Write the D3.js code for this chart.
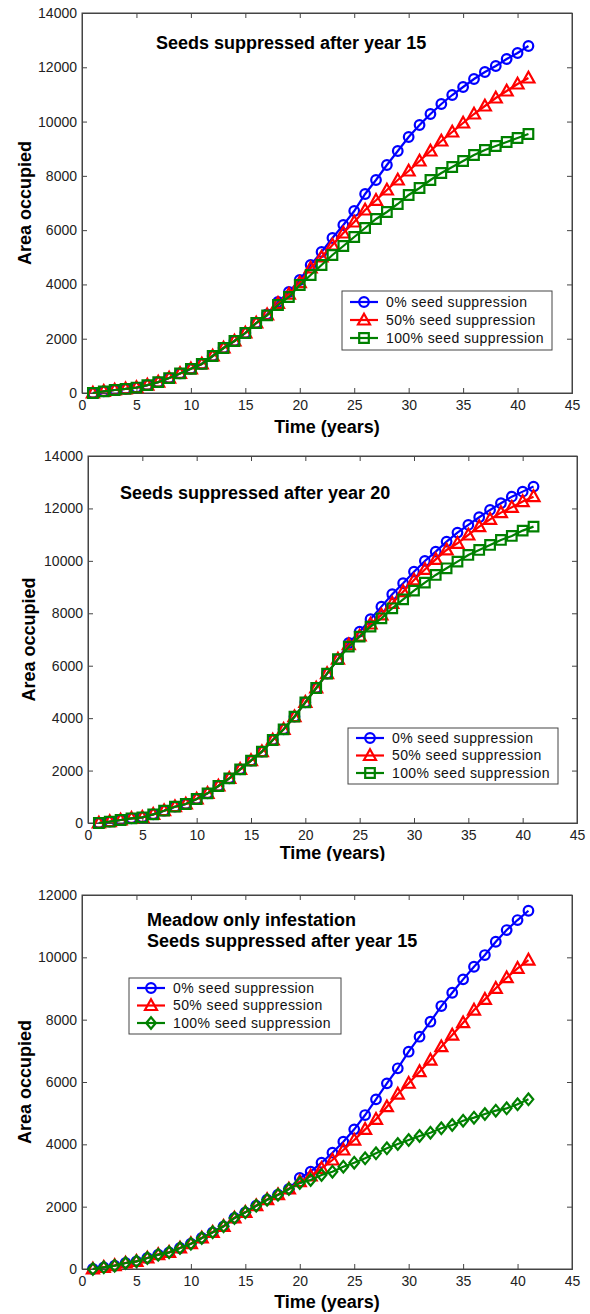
<!DOCTYPE html>
<html><head><meta charset="utf-8">
<script src="https://cdn.jsdelivr.net/npm/d3@7"></script>
<style>
body{margin:0;background:#fff}
svg{display:block}
text{font-family:"Liberation Sans",Arial,Helvetica,sans-serif}
</style>
</head><body>
<svg id="c" width="590" height="1314"></svg>
<script>
// ---------- data ----------
const years = [1,2,3,4,5,6,7,8,9,10,11,12,13,14,15,16,17,18,19,20,21,22,23,24,25,26,27,28,29,30,31,32,33,34,35,36,37,38,39,40,41];
const xTicks = [0,5,10,15,20,25,30,35,40,45];
const yTicks14 = [0,2000,4000,6000,8000,10000,12000,14000];
const yTicks12 = [0,2000,4000,6000,8000,10000,12000];
const legendLabels = ["0% seed suppression","50% seed suppression","100% seed suppression"];
const seriesColors = ["#0000ff","#ff0000","#008000"];

// Panel 1: seeds suppressed after year 15
const p1_s0   = [0,60,110,150,200,290,400,550,720,890,1070,1363,1658,1916,2210,2579,2900,3353,3721,4163,4716,5195,5711,6189,6705,7332,7847,8400,8916,9432,9874,10279,10647,10979,11274,11568,11826,12047,12305,12526,12784];
const p1_s50  = [0,60,110,150,200,290,400,550,720,890,1070,1363,1658,1916,2210,2579,2880,3300,3640,4070,4605,5011,5453,5895,6300,6742,7100,7479,7847,8179,8547,8916,9284,9616,9947,10279,10574,10868,11126,11384,11605];
const p1_s100 = [0,60,110,150,200,290,400,550,720,890,1070,1363,1658,1916,2210,2579,2860,3242,3537,3979,4347,4716,5084,5416,5747,6079,6411,6668,6963,7295,7553,7847,8105,8326,8547,8768,8953,9100,9247,9395,9542];

// Panel 2: seeds suppressed after year 20
const p2_s0   = [0,50,114,179,217,331,469,622,725,916,1132,1411,1704,2047,2377,2720,3167,3574,4055,4600,5150,5700,6250,6867,7300,7772,8253,8726,9146,9588,9996,10352,10734,11077,11370,11663,11942,12197,12450,12641,12832];
const p2_s50  = [0,50,114,179,217,331,469,622,725,916,1132,1411,1704,2047,2377,2720,3167,3574,4055,4600,5150,5700,6250,6800,7134,7592,7936,8380,8826,9271,9672,10054,10416,10670,10987,11305,11585,11840,12044,12260,12450];
const p2_s100 = [0,50,114,179,217,331,469,622,725,916,1132,1411,1704,2047,2377,2720,3167,3574,4055,4600,5150,5700,6250,6727,7108,7490,7808,8190,8533,8863,9169,9462,9717,9970,10225,10416,10606,10797,10950,11153,11305];

// Panel 3: meadow only infestation, seeds suppressed after year 15
const p3_s0   = [0,53,107,193,246,353,460,535,674,813,995,1177,1369,1637,1818,2031,2224,2384,2567,2920,3122,3411,3732,4085,4481,4940,5444,5957,6439,6972,7453,7934,8437,8864,9294,9698,10074,10500,10875,11196,11495];
const p3_s50  = [0,53,107,193,246,353,460,535,674,813,995,1177,1369,1637,1818,2031,2224,2384,2567,2802,2984,3231,3497,3818,4138,4481,4803,5207,5614,5960,6331,6705,7132,7507,7902,8309,8652,9006,9346,9647,9913];
const p3_s100 = [0,53,107,193,246,353,460,535,674,813,995,1177,1369,1637,1818,2031,2224,2384,2567,2760,2855,3016,3122,3282,3411,3551,3711,3872,4010,4138,4267,4374,4514,4620,4759,4856,4973,5080,5155,5284,5444];

// ---------- drawing ----------
const svg = d3.select("#c");
const FONT = '"Liberation Sans",Arial,Helvetica,sans-serif';

function markerPath(type){
  if(type==="triangle") return "M0,-6.3L6,4.5L-6,4.5Z";
  if(type==="square") return "M-4.8,-4.8H4.8V4.8H-4.8Z";
  if(type==="diamond") return "M0,-5.8L4.8,0L0,5.8L-4.8,0Z";
}
function drawMarker(g, type, x, y, color){
  if(type==="circle"){
    g.append("circle").attr("cx",x).attr("cy",y).attr("r",4.8)
      .attr("fill","none").attr("stroke",color).attr("stroke-width",2.2);
  } else {
    g.append("path").attr("d",markerPath(type)).attr("transform",`translate(${x},${y})`)
      .attr("fill","none").attr("stroke",color).attr("stroke-width",2.2).attr("stroke-linejoin","miter");
  }
}

function panel(cfg){
  const x = d3.scaleLinear().domain([0,45]).range([cfg.left,cfg.right]);
  const y = d3.scaleLinear().domain([0,cfg.yMax]).range([cfg.bottom,cfg.top]);
  const g = svg.append("g");
  const axisColor = "#444";

  g.append("rect").attr("x",cfg.left).attr("y",cfg.top)
    .attr("width",cfg.right-cfg.left).attr("height",cfg.bottom-cfg.top)
    .attr("fill","none").attr("stroke",axisColor).attr("stroke-width",1);

  const tl = 5;
  const xb = g.append("g").attr("transform",`translate(0,${cfg.bottom})`)
    .call(d3.axisBottom(x).tickValues(xTicks).tickSize(-tl).tickPadding(7).tickFormat(d3.format("d")));
  const xt = g.append("g").attr("transform",`translate(0,${cfg.top})`)
    .call(d3.axisTop(x).tickValues(xTicks).tickSize(-tl).tickFormat(""));
  const yl = g.append("g").attr("transform",`translate(${cfg.left},0)`)
    .call(d3.axisLeft(y).tickValues(cfg.yTicks).tickSize(-tl).tickPadding(5).tickFormat(d3.format("d")));
  const yr = g.append("g").attr("transform",`translate(${cfg.right},0)`)
    .call(d3.axisRight(y).tickValues(cfg.yTicks).tickSize(-tl).tickFormat(""));
  [xb,xt,yl,yr].forEach(a=>{
    a.select(".domain").attr("stroke",axisColor);
    a.selectAll(".tick line").attr("stroke",axisColor);
    a.selectAll("text").attr("font-family",FONT).attr("font-size",14).attr("fill","#222");
  });
  xb.selectAll("text").attr("dy","0.71em");

  const line = d3.line().x((d,i)=>x(years[i])).y(d=>y(d));
  cfg.series.forEach((s,k)=>{
    const sg = g.append("g");
    sg.append("path").datum(s).attr("d",line).attr("fill","none")
      .attr("stroke",seriesColors[k]).attr("stroke-width",2.2);
    s.forEach((v,i)=>drawMarker(sg,cfg.markers[k],x(years[i]),y(v),seriesColors[k]));
  });

  cfg.title.forEach((t,i)=>{
    g.append("text").attr("x",cfg.titleX).attr("y",cfg.titleY+i*21)
      .attr("font-size",18).attr("font-weight","bold").attr("fill","#000").text(t);
  });

  g.append("text").attr("x",(cfg.left+cfg.right)/2).attr("y",cfg.xLabelY)
    .attr("text-anchor","middle").attr("font-size",18).attr("font-weight","bold").text("Time (years)");
  g.append("text").attr("transform",`translate(${cfg.yLabelX},${(cfg.top+cfg.bottom)/2}) rotate(-90)`)
    .attr("text-anchor","middle").attr("font-size",18).attr("font-weight","bold").text("Area occupied");

  const L = cfg.legend;
  const lg = g.append("g");
  lg.append("rect").attr("x",L.x).attr("y",L.y).attr("width",L.w).attr("height",L.h)
    .attr("fill","#fff").attr("stroke",axisColor).attr("stroke-width",1);
  legendLabels.forEach((lab,k)=>{
    const ry = L.y + L.row0 + k*L.dy;
    lg.append("line").attr("x1",L.x+8).attr("x2",L.x+36).attr("y1",ry).attr("y2",ry)
      .attr("stroke",seriesColors[k]).attr("stroke-width",2.2);
    drawMarker(lg,cfg.markers[k],L.x+22,ry,seriesColors[k]);
    lg.append("text").attr("x",L.x+44).attr("y",ry).attr("dy","0.35em")
      .attr("font-size",14).attr("letter-spacing","0.4px").attr("fill","#111").text(lab);
  });
}

panel({left:82,right:572,top:13,bottom:393,yMax:14000,yTicks:yTicks14,
  series:[p1_s0,p1_s50,p1_s100],markers:["circle","triangle","square"],
  title:["Seeds suppressed after year 15"],titleX:156,titleY:49,
  xLabelY:433,yLabelX:31,
  legend:{x:342,y:291,w:210,h:59,row0:11,dy:18}});

panel({left:88,right:577,top:456,bottom:823,yMax:14000,yTicks:yTicks14,
  series:[p2_s0,p2_s50,p2_s100],markers:["circle","triangle","square"],
  title:["Seeds suppressed after year 20"],titleX:120,titleY:499,
  xLabelY:859,yLabelX:35,
  legend:{x:348,y:728,w:210,h:56,row0:10,dy:17.5}});

// lower half of the second x label is cut off in the source image
svg.append("rect").attr("x",0).attr("y",861).attr("width",590).attr("height",10).attr("fill","#fff");

panel({left:82,right:572,top:895,bottom:1269,yMax:12000,yTicks:yTicks12,
  series:[p3_s0,p3_s50,p3_s100],markers:["circle","triangle","diamond"],
  title:["Meadow only infestation","Seeds suppressed after year 15"],titleX:147,titleY:926,
  xLabelY:1308,yLabelX:31,
  legend:{x:129,y:978,w:212,h:56,row0:10,dy:17.5}});
</script>
</body></html>
